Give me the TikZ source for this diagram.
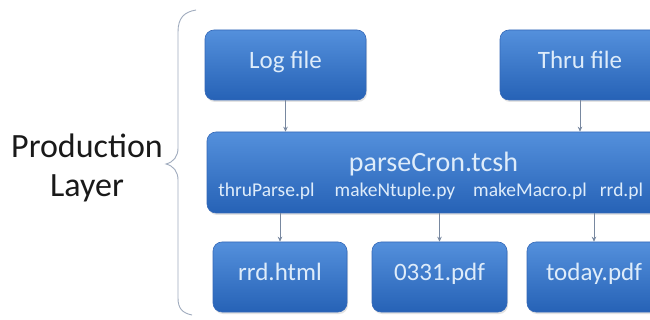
\documentclass[tikz,border=0pt]{standalone}
\usepackage{fontspec}
\setmainfont{Carlito}
\usetikzlibrary{arrows.meta,shadows}

\definecolor{boxtop}{RGB}{84,144,220}
\definecolor{boxbot}{RGB}{38,98,182}
\definecolor{boxline}{RGB}{52,104,184}
\definecolor{boxtext}{RGB}{222,236,250}
\definecolor{arrowgray}{RGB}{120,136,160}
\definecolor{bracegray}{RGB}{160,172,190}
\definecolor{labeltext}{RGB}{25,25,25}

\tikzset{
  bluebox/.style={rectangle, rounded corners=9pt, draw=boxline, line width=0.6pt,
    top color=boxtop, bottom color=boxbot, text=boxtext, inner sep=0pt,
    text height=0.64em, text depth=0pt,
    font=\fontsize{25}{28}\selectfont,
    drop shadow={opacity=0.22, shadow xshift=1pt, shadow yshift=-2pt}},
  boxtitle/.style={text=boxtext, inner sep=0pt, anchor=base, font=\fontsize{28}{32}\selectfont},
  boxsub/.style={text=boxtext, inner sep=0pt, anchor=base, font=\fontsize{19.5}{22}\selectfont},
  flow/.style={draw=arrowgray, line width=0.8pt, -{Stealth[length=5pt,width=4.5pt]}},
  layerlabel/.style={text=labeltext, align=center, inner sep=0pt,
    font=\fontsize{34}{39}\selectfont},
}

\begin{document}
\begin{tikzpicture}[x=1pt, y=-1pt]
  \useasboundingbox (0,0) rectangle (650,320);
  \clip (0,0) rectangle (650,320);
  \fill[white] (0,0) rectangle (650,320);

  % layer label and its brace
  \node[layerlabel] (layer) at (87,168) {Production\\Layer};
  \draw[bracegray, line width=0.9pt]
    (196,10) .. controls (184,12) and (178,18) .. (178,32)
    -- (178,148) .. controls (178,156) and (174,162) .. (166,164)
    .. controls (174,166) and (178,172) .. (178,180)
    -- (178,298) .. controls (178,308) and (182,313) .. (192,315);

  % inputs
  \node[bluebox, minimum width=161pt, minimum height=70pt] (log) at (285.5,65) {Log file};
  \node[bluebox, minimum width=160pt, minimum height=70pt] (thru) at (580,65) {Thru file};

  % processing step
  \node[bluebox, minimum width=453pt, minimum height=81pt] (parse) at (433.5,172.5) {};
  \node[boxtitle] (title) at (433.5,172) {parseCron.tcsh};
  \node[boxsub] (s1) at (266.5,197) {thruParse.pl};
  \node[boxsub] (s2) at (395,197) {makeNtuple.py};
  \node[boxsub] (s3) at (530,197) {makeMacro.pl};
  \node[boxsub] (s4) at (621.5,197) {rrd.pl};

  % outputs
  \node[bluebox, minimum width=134pt, minimum height=70pt] (html) at (280,277) {rrd.html};
  \node[bluebox, minimum width=135pt, minimum height=70pt] (pdfa) at (439.5,277) {0331.pdf};
  \node[bluebox, minimum width=134pt, minimum height=70pt] (pdfb) at (594,277) {today.pdf};

  % connectors
  \draw[flow] (log.south) -- (log.south |- parse.north);
  \draw[flow] (thru.south) -- (thru.south |- parse.north);
  \draw[flow] (html.north |- parse.south) -- (html.north);
  \draw[flow] (pdfa.north |- parse.south) -- (pdfa.north);
  \draw[flow] (pdfb.north |- parse.south) -- (pdfb.north);
\end{tikzpicture}
\end{document}
